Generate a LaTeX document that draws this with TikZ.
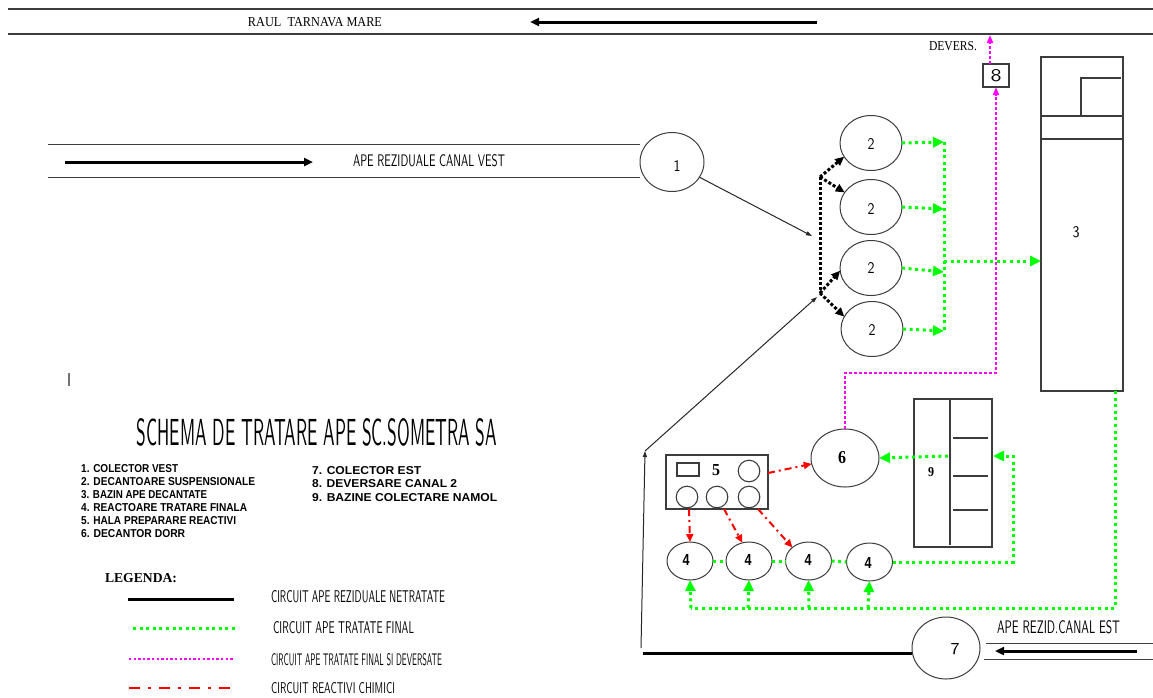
\documentclass[tikz,border=0pt]{standalone}
\usepackage{fontspec}
\setmainfont{Liberation Serif}
\newfontfamily\arialf{Liberation Sans}
\usepackage{graphicx}
\usetikzlibrary{arrows.meta,shapes.geometric}
\definecolor{G}{RGB}{0,255,0}
\definecolor{M}{RGB}{255,0,255}
\definecolor{R}{RGB}{255,0,0}
\definecolor{E}{RGB}{60,60,60}
\newcommand{\fitbox}[3]{\resizebox{#1pt}{#2pt}{#3}}
\begin{document}
\begin{tikzpicture}[x=1pt,y=-1pt,
  every node/.style={inner sep=0pt,outer sep=0pt},
  ell/.style={ellipse,draw=E,line width=1pt},
  box/.style={rectangle,draw=E,line width=1.1pt},
  rule/.style={draw=E,line width=1.1pt},
  gline/.style={draw=G,line width=3pt,dash pattern=on 3pt off 3.6pt},
  gtip/.style={-{Triangle[length=11pt,width=10pt]}},
  mline/.style={draw=M,line width=2.6pt,dash pattern=on 2.6pt off 2.4pt},
  mtip/.style={-{Triangle[length=8pt,width=6pt]}},
  rline/.style={draw=R,line width=2pt,dash pattern=on 7pt off 4pt on 2pt off 4pt},
  rtip/.style={-{Triangle[length=8pt,width=7pt]}},
  kdot/.style={draw=black,line width=3pt,dash pattern=on 3pt off 2pt},
  ktip/.style={-{Triangle[length=9pt,width=8pt]}},
  thin arrow/.style={draw=black!85,line width=1pt,-{Triangle[length=6pt,width=4pt]}},
  thick arrow/.style={draw=black,line width=3pt,-{Triangle[length=9pt,width=8pt]}},
  cad/.style={font=\sffamily},
  bnum/.style={font=\bfseries},
]
\useasboundingbox (0,0) rectangle (1153,697);

% river
\draw[rule] (8,9) -- (1153,9);
\draw[rule] (8,34) -- (1153,34);
\node (river) at (315,22) {\fitbox{134}{9}{RAUL\ \ TARNAVA MARE}};
\coordinate (ra) at (817,22);
\coordinate (rb) at (530,22);
\draw[thick arrow] (ra) -- (rb);
\node[anchor=east] (dev) at (977,46) {\fitbox{48}{9}{DEVERS.}};

% canal vest
\draw[draw=E,line width=1pt] (48,144) -- (640,144);
\draw[draw=E,line width=1pt] (48,177) -- (640,177);
\coordinate (va) at (65,162);
\coordinate (vb) at (313,162);
\draw[thick arrow] (va) -- (vb);
\node[cad] (tvest) at (429,161) {\fitbox{152}{12}{APE REZIDUALE CANAL VEST}};

% nodes
\node[ell,minimum width=64pt,minimum height=59pt] (n1) at (672,162) {};
\node[cad] (t1) at (677,166) {\fitbox{7}{11}{1}};
\node[ell,minimum width=62pt,minimum height=55pt] (n2a) at (871,143) {};
\node[ell,minimum width=62pt,minimum height=55pt] (n2b) at (871,207) {};
\node[ell,minimum width=62pt,minimum height=55pt] (n2c) at (871,268) {};
\node[ell,minimum width=62pt,minimum height=55pt] (n2d) at (872,329) {};
\node[cad] (t2a) at (871,144) {\fitbox{7}{11}{2}};
\node[cad] (t2b) at (871,209) {\fitbox{7}{11}{2}};
\node[cad] (t2c) at (871,268) {\fitbox{7}{11}{2}};
\node[cad] (t2d) at (872,330) {\fitbox{7}{11}{2}};

% bazin 3
\node[box,minimum width=82pt,minimum height=334pt] (n3) at (1082,224) {};
\draw[rule] (1041,116) -- (1123,116);
\draw[rule] (1041,139) -- (1123,139);
\draw[rule] (1081,116) -- (1081,78) -- (1121,78);
\node[cad] (t3) at (1076,232) {\fitbox{7}{11}{3}};

% box 8
\node[box,minimum width=26pt,minimum height=23pt] (n8) at (996,75.5) {};
\node[cad] (t8) at (996,76) {\fitbox{11}{12}{8}};

% node 6
\node[ell,minimum width=68pt,minimum height=58pt] (n6) at (845,458) {};
\node[bnum] (t6) at (842,458) {\fitbox{8}{12}{6}};

% box 5
\node[box,minimum width=102pt,minimum height=54pt] (n5) at (717,482) {};
\draw[rule] (677,463) rectangle (699,476);
\node[bnum] (t5) at (716,470) {\fitbox{8}{11}{5}};
\draw[rule] (749,471) circle (10.8pt);
\draw[rule] (687,497) circle (10.8pt);
\draw[rule] (717,497) circle (10.8pt);
\draw[rule] (749,497) circle (10.8pt);

% box 9
\node[box,minimum width=78pt,minimum height=148pt] (n9) at (953,473) {};
\draw[rule] (950,399) -- (950,545);
\draw[rule] (953,438) -- (988,438);
\draw[rule] (953,476) -- (988,476);
\draw[rule] (953,510) -- (988,510);
\node[bnum] (t9) at (931,472) {\fitbox{6}{9}{9}};

% reactors 4
\node[ell,minimum width=46pt,minimum height=38pt] (n4a) at (690,561) {};
\node[ell,minimum width=46pt,minimum height=38pt] (n4b) at (749,561) {};
\node[ell,minimum width=46pt,minimum height=38pt] (n4c) at (808.5,561) {};
\node[ell,minimum width=46pt,minimum height=38pt] (n4d) at (869.5,562) {};
\node[font=\arialf\bfseries] (t4a) at (686,560) {\fitbox{7}{11}{4}};
\node[font=\arialf\bfseries] (t4b) at (748,560) {\fitbox{7}{11}{4}};
\node[font=\arialf\bfseries] (t4c) at (808,560) {\fitbox{7}{11}{4}};
\node[font=\arialf\bfseries] (t4d) at (868,563) {\fitbox{7}{11}{4}};

% node 7 and canal est
\node[ell,minimum width=68pt,minimum height=62pt] (n7) at (946,648) {};
\node[cad] (t7) at (955,649) {\fitbox{9}{11}{7}};
\draw[draw=E,line width=1pt] (986,643) -- (1153,643);
\draw[draw=E,line width=1pt] (984,659) -- (1153,659);
\coordinate (ea) at (1137,651);
\coordinate (eb) at (995,651);
\draw[thick arrow] (ea) -- (eb);
\node[cad] (test) at (1058.5,627.5) {\fitbox{123}{13}{APE REZID.CANAL EST}};

% untreated water connectors
\coordinate (ja) at (812,236);
\draw[thin arrow] (n1.-29) -- (ja);
\coordinate (lb) at (641,648);
\coordinate (lt) at (645,451);
\coordinate (jc) at (817,297);
\draw[thin arrow] (lb) -- (lt);
\draw[thin arrow] (lt) -- (jc);
\coordinate (lb2) at (643,653);
\draw[draw=black,line width=3pt] (lb2) -- (lb2 -| n7.west);

% distribution to decanters
\coordinate (jt) at (820,177);
\coordinate (jb) at (820,293);
\draw[kdot] (jt) -- (jb);
\draw[kdot,ktip] (jt) -- (n2a.207);
\draw[kdot,ktip] (jt) -- (n2b.151);
\draw[kdot,ktip] (jb) -- (n2c.185);
\draw[kdot,ktip] (jb) -- (n2d.156);

% treated water (green)
\coordinate (gv1) at (944,142);
\coordinate (gv2) at (944,209);
\coordinate (gv3) at (944,272);
\coordinate (gv4) at (944,331);
\coordinate (gvm) at (944,261);
\draw[gline] (gv1) -- (gv4);
\draw[gline,gtip] (n2a.east) -- (gv1);
\draw[gline,gtip] (n2b.east) -- (gv2);
\draw[gline,gtip] (n2c.east) -- (gv3);
\draw[gline,gtip] (n2d.east) -- (gv4);
\draw[gline,gtip] (gvm) -- ([yshift=-37pt]n3.west);

\coordinate (g3a) at (1115,608);
\coordinate (b1) at (691,608);
\coordinate (b2) at (748,608);
\coordinate (b3) at (809,608);
\coordinate (b4) at (868,608);
\draw[gline] ([xshift=33pt]n3.south) -- (g3a) -- (b1);
\draw[gline,gtip] (b1) -- (n4a.south);
\draw[gline,gtip] (b2) -- (n4b.south);
\draw[gline,gtip] (b3) -- (n4c.south);
\draw[gline,gtip] (b4) -- (n4d.south);
\draw[gline] (n4a.east) -- (n4b.west);
\draw[gline] (n4b.east) -- (n4c.west);
\draw[gline] (n4c.east) -- (n4d.west);
\coordinate (g4a) at (1013,562);
\coordinate (g4b) at (1013,456);
\coordinate (g9) at (993,456);
\draw[gline,gtip] (n4d.east) -- (g4a) -- (g4b) -- (g9);
\coordinate (g9s) at (948,456);
\draw[gline,gtip] (g9s) -- (n6.east);

% treated and discharged (magenta)
\coordinate (m1) at (845,373);
\coordinate (m2) at (996,373);
\draw[mline,mtip] (n6.north) -- (m1) -- (m2) -- (n8.south);
\coordinate (mdev) at (990,35);
\draw[mline,mtip] ([xshift=-6pt]n8.north) -- (mdev);

% reagents (red)
\draw[rline,rtip] ([yshift=9pt]n5.east) -- (n6.190);
\draw[rline,rtip] ([xshift=-28pt]n5.south) -- (n4a.north);
\draw[rline,rtip] ([xshift=7pt]n5.south) -- (n4b.110);
\draw[rline,rtip] ([xshift=41pt]n5.south) -- (n4c.140);

% cursor mark
\draw[draw=black!55,line width=1.5pt] (69,373) -- (69,386);

% title and list
\node[cad] (title) at (317,432) {\fitbox{360}{27}{SCHEMA DE TRATARE APE SC.SOMETRA SA}};
\begin{scope}[every node/.style={anchor=west,font=\arialf\bfseries,inner sep=0pt}]
\node (i1) at (81,469) {\fitbox{97}{8}{1. COLECTOR VEST}};
\node (i2) at (81,482) {\fitbox{174}{8}{2. DECANTOARE SUSPENSIONALE}};
\node (i3) at (81,494.5) {\fitbox{126}{8}{3. BAZIN APE DECANTATE}};
\node (i4) at (81,507.5) {\fitbox{166}{8}{4. REACTOARE TRATARE FINALA}};
\node (i5) at (81,520.5) {\fitbox{155}{8}{5. HALA PREPARARE REACTIVI}};
\node (i6) at (81,533.5) {\fitbox{104}{8}{6. DECANTOR DORR}};
\node (i7) at (312,471) {\fitbox{109}{8}{7. COLECTOR EST}};
\node (i8) at (312,484) {\fitbox{145}{8}{8. DEVERSARE CANAL 2}};
\node (i9) at (312,497.5) {\fitbox{185}{8}{9. BAZINE COLECTARE NAMOL}};
\end{scope}

% legend
\node[anchor=west,font=\bfseries] (leg) at (105,578.5) {\fitbox{72}{9}{LEGENDA:}};
\coordinate (l1a) at (128,599); \coordinate (l1b) at (234,599);
\coordinate (l2a) at (133,628); \coordinate (l2b) at (236,628);
\coordinate (l3a) at (129,659); \coordinate (l3b) at (233,659);
\coordinate (l4a) at (129,688); \coordinate (l4b) at (236,688);
\draw[draw=black,line width=3pt] (l1a) -- (l1b);
\draw[gline] (l2a) -- (l2b);
\draw[mline,line width=2.4pt,dash pattern=on 2.4pt off 2.2pt] (l3a) -- (l3b);
\draw[draw=R,line width=2.8pt,dash pattern=on 11pt off 8pt on 3pt off 8pt] (l4a) -- (l4b);
\node[cad,anchor=west] (lt1) at (271,597) {\fitbox{174}{12}{CIRCUIT APE REZIDUALE NETRATATE}};
\node[cad,anchor=west] (lt2) at (273,628) {\fitbox{141}{12}{CIRCUIT APE TRATATE FINAL}};
\node[cad,anchor=west] (lt3) at (271,660) {\fitbox{171}{12}{CIRCUIT APE TRATATE FINAL SI DEVERSATE}};
\node[cad,anchor=west] (lt4) at (271,688.5) {\fitbox{124}{11}{CIRCUIT REACTIVI CHIMICI}};
\end{tikzpicture}
\end{document}
